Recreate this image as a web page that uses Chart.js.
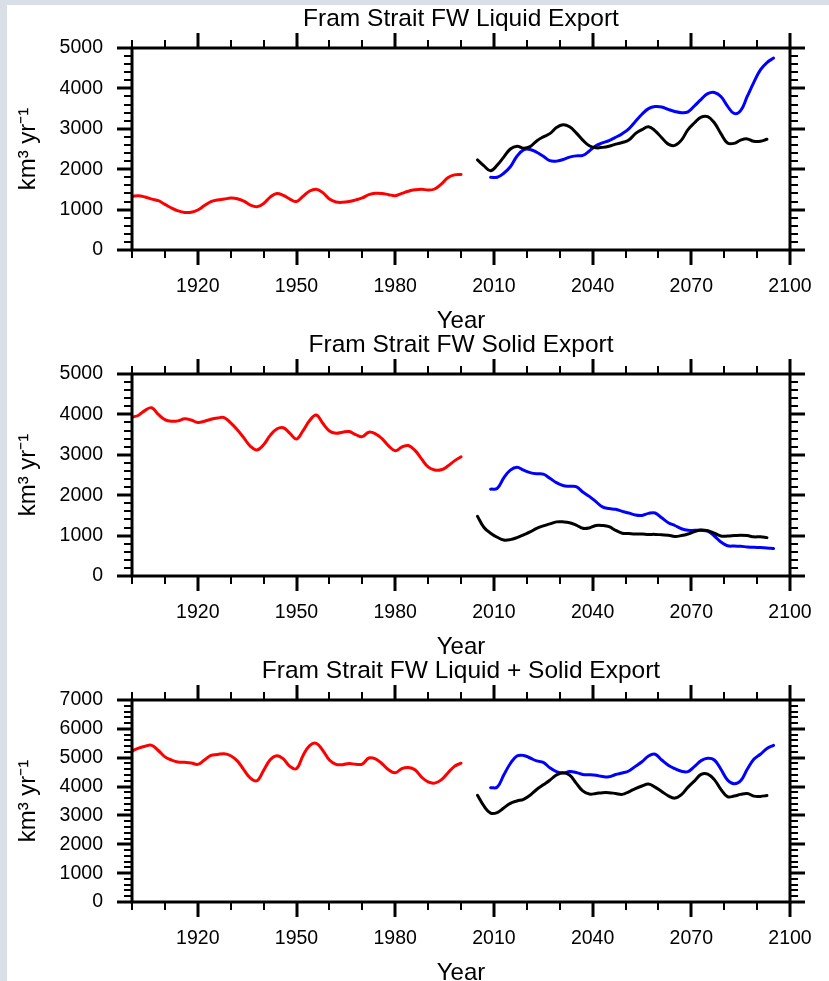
<!DOCTYPE html>
<html>
<head>
<meta charset="utf-8">
<title>Fram Strait FW Export</title>
<script src="https://cdn.jsdelivr.net/npm/chart.js@4.4.1/dist/chart.umd.min.js"></script>
<style>
  html, body { margin: 0; padding: 0; overflow: hidden; }
  body { width: 829px; height: 981px; background: #d9dfe7; position: relative; }
  #sheet { position: absolute; left: 7px; top: 5px; right: 0; bottom: 0; background: #fff; }
  canvas { position: absolute; left: 0; }
</style>
</head>
<body>
<div id="sheet"></div>
<canvas id="c1" width="829" height="340" style="top:0px"></canvas>
<canvas id="c2" width="829" height="340" style="top:326px"></canvas>
<canvas id="c3" width="829" height="340" style="top:652px"></canvas>
<script>
// years of each run
const histYears = [1900,1902,1904,1906,1908,1910,1912,1914,1916,1918,
  1920,1922,1924,1926,1928,1930,1932,1934,1936,1938,
  1940,1942,1944,1946,1948,1950,1952,1954,1956,1958,
  1960,1962,1964,1966,1968,1970,1972,1974,1976,1978,
  1980,1982,1984,1986,1988,1990,1992,1994,1996,1998,2000]
const blackYears = [2005,2007,2009,2011,2013,2015,2017,2019,2021,2023,
  2025,2027,2029,2031,2033,2035,2037,2039,2041,2043,
  2045,2047,2049,2051,2053,2055,2057,2059,2061,2063,
  2065,2067,2069,2071,2073,2075,2077,2079,2081,2083,
  2085,2087,2089,2091,2093]
const blueYears = [2009,2011,2013,2015,2017,2019,2021,2023,2025,2027,
  2029,2031,2033,2035,2037,2039,2041,2043,2045,2047,
  2049,2051,2053,2055,2057,2059,2061,2063,2065,2067,
  2069,2071,2073,2075,2077,2079,2081,2083,2085,2087,
  2089,2091,2093,2095]

// liquid export (km3/yr)
const liquidHist = [1330,1345,1310,1260,1220,1130,1040,970,930,935,
  990,1100,1200,1240,1260,1285,1270,1210,1110,1070,
  1150,1310,1400,1350,1260,1200,1330,1460,1505,1420,
  1260,1190,1180,1200,1240,1290,1370,1405,1400,1370,
  1345,1400,1455,1490,1505,1485,1510,1630,1790,1860,1870]
const liquidBlack = [2230,2080,1960,2100,2300,2500,2570,2520,2560,2700,
  2800,2880,3030,3100,3050,2900,2720,2580,2530,2540,
  2570,2620,2660,2720,2880,2980,3050,2950,2780,2620,
  2590,2720,2980,3150,3290,3300,3150,2880,2650,2640,
  2720,2750,2690,2690,2740]
const liquidBlue = [1800,1800,1900,2060,2320,2480,2490,2420,2320,2210,
  2200,2240,2300,2330,2340,2450,2580,2650,2710,2790,
  2880,3000,3180,3360,3500,3550,3540,3480,3430,3400,
  3420,3570,3730,3870,3900,3800,3560,3380,3450,3800,
  4150,4460,4640,4750]

// solid export
const solidHist = [3930,3980,4100,4165,4000,3870,3830,3840,3890,3860,
  3800,3830,3880,3910,3920,3790,3620,3420,3210,3120,
  3250,3480,3640,3670,3530,3390,3600,3850,3985,3780,
  3590,3535,3560,3575,3500,3450,3560,3520,3400,3220,
  3100,3190,3230,3110,2900,2700,2625,2630,2720,2850,2950]
const solidBlack = [1480,1200,1060,960,890,900,950,1020,1090,1180,
  1240,1290,1340,1340,1320,1260,1180,1190,1250,1250,
  1220,1130,1060,1050,1040,1040,1030,1030,1020,1010,
  980,1000,1040,1100,1140,1120,1060,990,990,1000,
  1010,1000,970,970,950]
const solidBlue = [2150,2170,2430,2620,2690,2620,2560,2530,2520,2420,
  2310,2240,2220,2210,2080,1970,1840,1710,1670,1650,
  1600,1560,1510,1500,1550,1560,1440,1320,1250,1170,
  1130,1130,1130,1110,990,840,750,740,735,720,
  710,705,695,680]

// liquid + solid
const totalHist = [5230,5330,5400,5430,5250,5030,4920,4850,4840,4820,
  4770,4920,5080,5110,5140,5070,4890,4580,4290,4200,
  4560,4930,5070,4960,4700,4620,5080,5420,5500,5250,
  4920,4770,4760,4800,4770,4780,4990,4960,4790,4580,
  4480,4620,4660,4580,4330,4160,4120,4230,4470,4700,4810]
const totalBlack = [3700,3320,3080,3100,3260,3420,3500,3560,3700,3900,
  4060,4220,4400,4480,4400,4120,3850,3740,3760,3790,
  3790,3760,3730,3820,3930,4020,4090,3980,3830,3680,
  3600,3720,3980,4200,4420,4430,4240,3900,3650,3670,
  3730,3760,3670,3660,3690]
const totalBlue = [3960,3980,4400,4800,5060,5080,4990,4890,4840,4650,
  4520,4470,4520,4490,4420,4410,4390,4350,4340,4420,
  4470,4540,4700,4860,5060,5120,4920,4740,4620,4530,
  4520,4700,4900,4980,4920,4600,4230,4100,4200,4600,
  4950,5120,5320,5430]

// axis ticks
const xMajorTicks = [1920, 1950, 1980, 2010, 2040, 2070, 2100]
const xMinorStep = 10
const yMajorStep = 1000
const yMinorStep = 200

const FONT = "'Liberation Sans', Arial, Helvetica, sans-serif"

// NCL style box with outward major/minor ticks on all four sides
const frameTicks = {
    id: 'frameTicks',
    afterDraw(chart) {
        const ctx = chart.ctx
        const a = chart.chartArea
        const x = chart.scales.x, y = chart.scales.y
        const seg = (x1, y1, x2, y2) => { ctx.beginPath(); ctx.moveTo(x1, y1); ctx.lineTo(x2, y2); ctx.stroke() }
        ctx.save()
        ctx.strokeStyle = '#000'
        ctx.lineCap = 'butt'

        ctx.lineWidth = 2
        for (let v = x.min; v <= x.max; v += xMinorStep) {
            let px = Math.round(x.getPixelForValue(v))
            seg(px, a.bottom, px, a.bottom + 8)
            seg(px, a.top, px, a.top - 8)
        }
        for (let v = y.min; v <= y.max; v += yMinorStep) {
            let py = Math.round(y.getPixelForValue(v))
            seg(a.left, py, a.left - 8, py)
            seg(a.right, py, a.right + 8, py)
        }

        ctx.lineWidth = 3
        for (let v of xMajorTicks) {
            let px = Math.round(x.getPixelForValue(v))
            seg(px, a.bottom, px, a.bottom + 15)
            seg(px, a.top, px, a.top - 15)
        }
        for (let v = y.min; v <= y.max; v += yMajorStep) {
            let py = Math.round(y.getPixelForValue(v))
            seg(a.left, py, a.left - 15, py)
            seg(a.right, py, a.right + 15, py)
        }

        ctx.strokeRect(a.left, a.top, a.right - a.left, a.bottom - a.top)
        ctx.restore()
    }
}

function pairs(years, vals) {
    return years.map((yr, i) => ({ x: yr, y: vals[i] }))
}

function line(label, years, vals, color) {
    return {
        label: label,
        data: pairs(years, vals),
        borderColor: color,
        backgroundColor: color,
        borderWidth: 3,
        pointRadius: 0,
        tension: 0.4,
        borderCapStyle: 'round',
        borderJoinStyle: 'round',
        fill: false
    }
}

function makePanel(id, title, yMax, hist, black, blue) {
    return new Chart(document.getElementById(id), {
        type: 'line',
        data: {
            datasets: [
                line('hist', histYears, hist, '#ff0000'),
                line('black', blackYears, black, '#000000'),
                line('blue', blueYears, blue, '#0000ff')
            ]
        },
        plugins: [frameTicks],
        options: {
            responsive: false,
            animation: false,
            devicePixelRatio: 1,
            layout: { padding: { left: 0, right: 39, top: 0, bottom: 0 } },
            plugins: {
                legend: { display: false },
                tooltip: { enabled: false },
                title: {
                    display: true,
                    text: title,
                    fullSize: false,
                    color: '#000',
                    font: { family: FONT, size: 24.5, weight: 'normal' },
                    padding: { top: 5, bottom: 13.6 }
                }
            },
            scales: {
                x: {
                    type: 'linear',
                    min: 1900,
                    max: 2100,
                    afterBuildTicks: s => { s.ticks = xMajorTicks.map(v => ({ value: v })) },
                    afterFit: s => { s.height = 90; s.paddingLeft = 0; s.paddingRight = 0 },
                    grid: { display: false, drawTicks: false },
                    border: { display: false },
                    ticks: {
                        autoSkip: false,
                        maxRotation: 0,
                        padding: 25,
                        color: '#000',
                        font: { family: FONT, size: 19.5 },
                        callback: v => String(v)
                    },
                    title: {
                        display: true,
                        text: 'Year',
                        color: '#000',
                        font: { family: FONT, size: 24 },
                        padding: { top: 0, bottom: 4 }
                    }
                },
                y: {
                    min: 0,
                    max: yMax,
                    afterFit: s => { s.width = 132; s.paddingTop = 0; s.paddingBottom = 0 },
                    grid: { display: false, drawTicks: false },
                    border: { display: false },
                    ticks: {
                        stepSize: yMajorStep,
                        padding: 29,
                        color: '#000',
                        font: { family: FONT, size: 19.5 },
                        callback: v => String(v)
                    },
                    title: {
                        display: true,
                        text: 'km³ yr⁻¹',
                        color: '#000',
                        font: { family: FONT, size: 24 },
                        padding: { top: 14, bottom: 0 }
                    }
                }
            }
        }
    })
}

makePanel('c1', 'Fram Strait FW Liquid Export', 5000, liquidHist, liquidBlack, liquidBlue)
makePanel('c2', 'Fram Strait FW Solid Export', 5000, solidHist, solidBlack, solidBlue)
makePanel('c3', 'Fram Strait FW Liquid + Solid Export', 7000, totalHist, totalBlack, totalBlue)
</script>
</body>
</html>
